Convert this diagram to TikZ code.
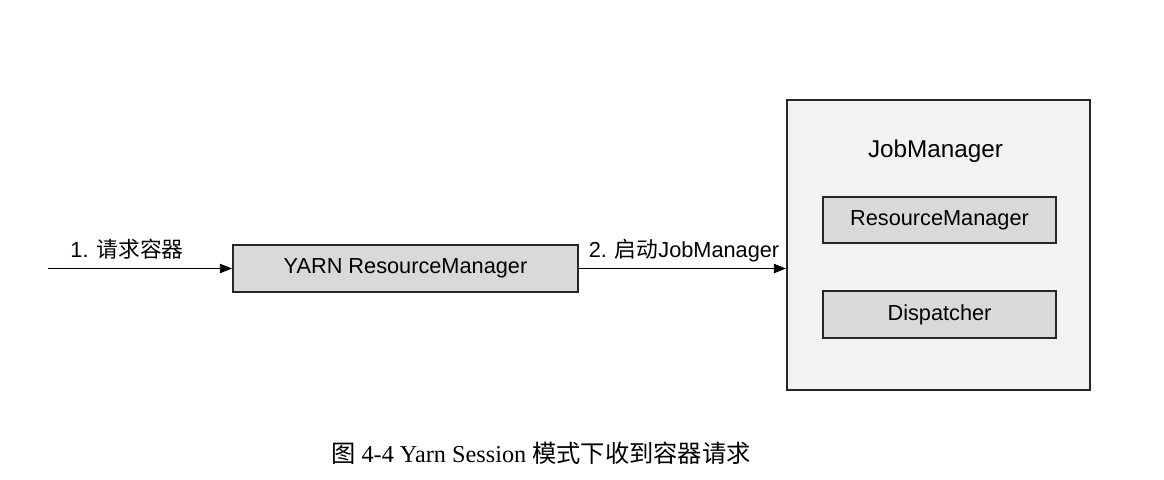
\documentclass[tikz,border=0pt]{standalone}
\usepackage{fontspec}
\setmainfont{Liberation Sans}
\newfontfamily\cjk{Noto Sans CJK SC}
\newfontfamily\capfont{Liberation Serif}
\usetikzlibrary{arrows.meta}
\newlength\pxu
\setlength\pxu{0.75pt}
\definecolor{boxgray}{HTML}{D9D9D9}
\definecolor{outergray}{HTML}{F2F2F2}
\definecolor{edgegray}{HTML}{262626}
\begin{document}
\begin{tikzpicture}[x=0.75pt,y=-0.75pt,
  graybox/.style={draw=edgegray,line width=1.6pt,fill=boxgray,rectangle,inner sep=0pt,
    font=\fontsize{16.3pt}{19pt}\selectfont},
  outerbox/.style={draw=edgegray,line width=1.6pt,fill=outergray,rectangle,inner sep=0pt},
  conn/.style={draw=black,line width=0.6pt,-{Triangle[length=9pt,width=7pt]}},
  lbl/.style={inner sep=0pt,anchor=base,font=\fontsize{16.3pt}{19pt}\selectfont}]
\useasboundingbox (0,0) rectangle (1164,479);
\fill[white] (0,0) rectangle (1164,479);
\node[graybox,minimum width=345\pxu,minimum height=47\pxu] (yarn) at (405.5,268.5) {YARN ResourceManager};
\node[outerbox,minimum width=303\pxu,minimum height=290\pxu] (jm) at (938.5,245) {};
\node[inner sep=0pt,font=\fontsize{18.2pt}{21pt}\selectfont] (jmtitle) at (935.5,151) {JobManager};
\node[graybox,minimum width=233\pxu,minimum height=46\pxu] (rm) at (939.5,220) {ResourceManager};
\node[graybox,minimum width=233\pxu,minimum height=47\pxu] (disp) at (939.5,314.5) {Dispatcher};
\coordinate (in) at (48,268.5);
\draw[conn] (in) -- (yarn.west);
\draw[conn] (yarn.east) -- (yarn.east -| jm.west);
\node[lbl] (l1) at (127,257) {1. {\cjk 请求容器}};
\node[lbl] (l2) at (684,257) {2. {\cjk 启动}JobManager};
\node[inner sep=0pt,anchor=base,font=\fontsize{18.2pt}{22pt}\selectfont\capfont] (cap) at (541,462) {{\cjk 图} 4-4 Yarn Session {\cjk 模式下收到容器请求}};
\end{tikzpicture}
\end{document}
